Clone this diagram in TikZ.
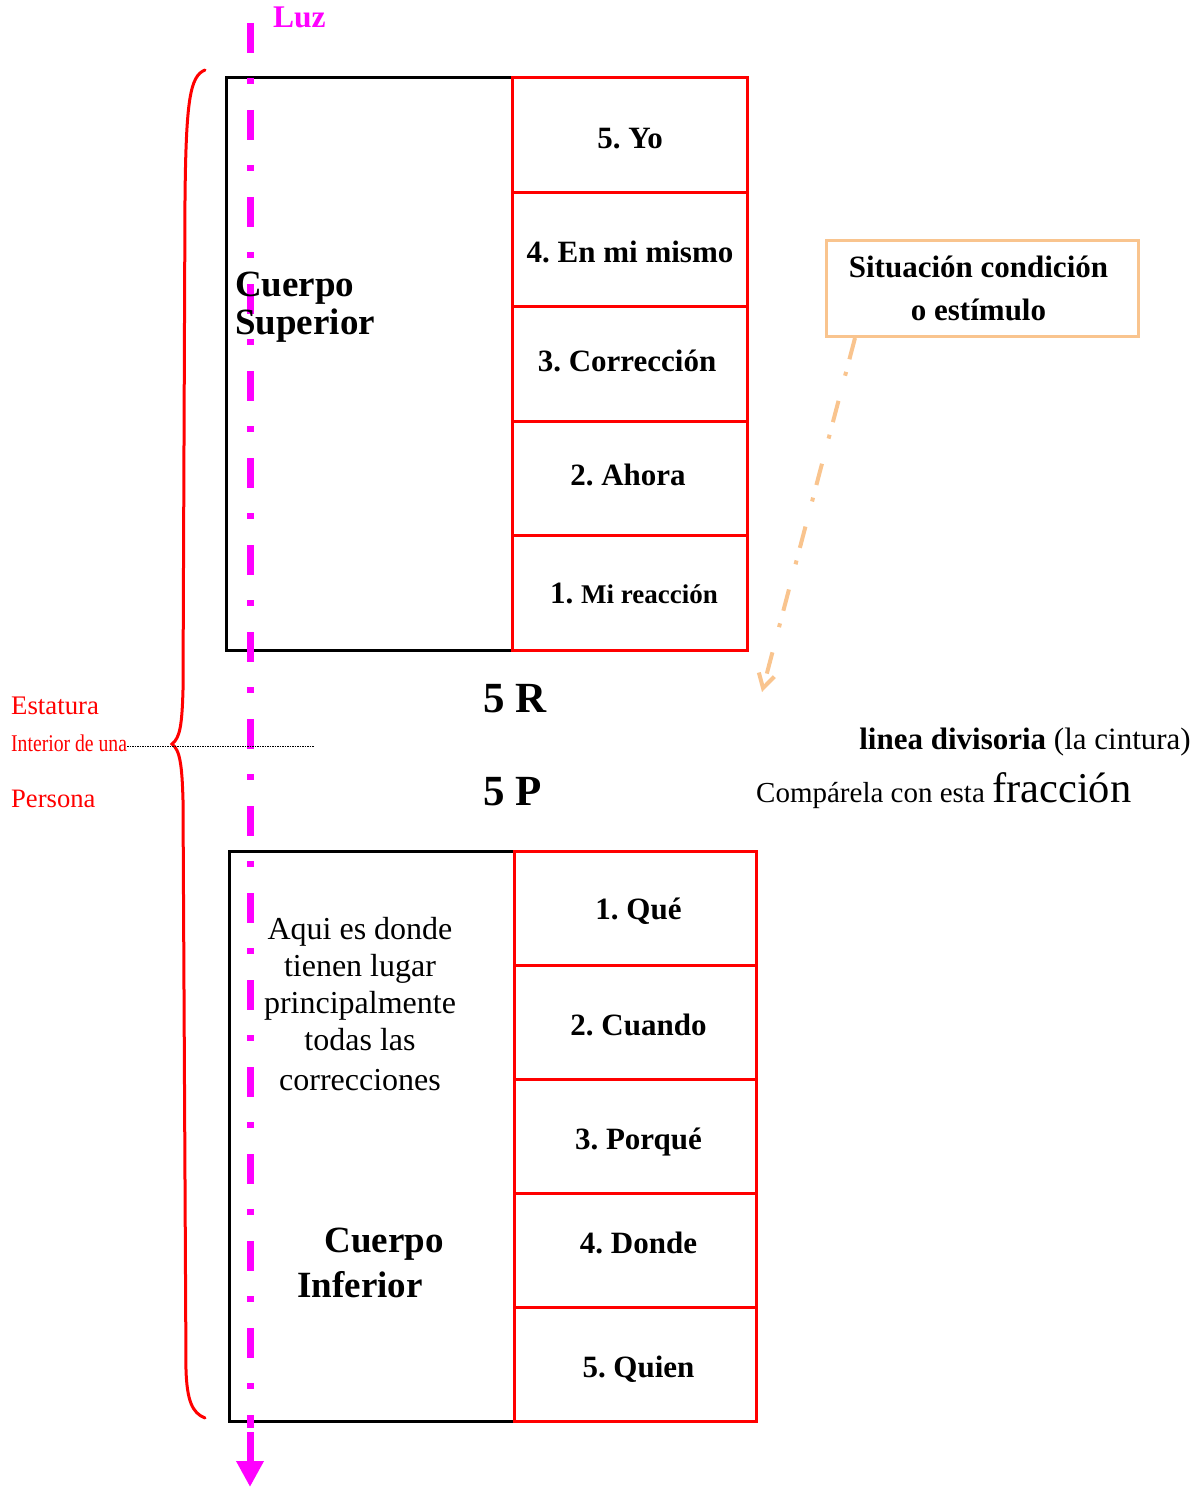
\documentclass[tikz,border=0pt]{standalone}
\usepackage{fontspec}
\setmainfont{Liberation Serif}
\usetikzlibrary{arrows.meta}
\definecolor{mag}{HTML}{FF00FF}
\definecolor{peach}{HTML}{F9C48E}
\definecolor{rd}{HTML}{FF0000}
\frenchspacing
\newcommand{\shiftlbl}[3]{\hspace*{#1}\raisebox{#2}[\height][\depth]{#3}}
\begin{document}
\begin{tikzpicture}[x=1pt,y=-1pt,
  blackbox/.style={draw=black,line width=3.2pt,anchor=north west,inner sep=0pt},
  upcell/.style={draw=rd,line width=3pt,anchor=north west,minimum width=235pt,minimum height=114.6pt,inner sep=0pt,font=\bfseries\fontsize{31}{33}\selectfont},
  lowcell/.style={draw=rd,line width=3pt,anchor=north west,minimum width=242pt,minimum height=114pt,inner sep=0pt,font=\bfseries\fontsize{31}{33}\selectfont},
  redlbl/.style={text=rd,anchor=base west,inner sep=0pt},
  lightaxis/.style={draw=mag,line width=7pt,dash pattern=on 30pt off 25pt on 6pt off 26pt},
]
\useasboundingbox (0,0) rectangle (1198,1490);
% brace
\draw[rd,line width=3pt,line cap=round] (205,70) .. controls (190,76) and (186,100) .. (185,200)
  -- (183,690) .. controls (182,725) and (180,738) .. (172,744)
  .. controls (180,750) and (182,765) .. (183,800)
  -- (186,1370) .. controls (187,1400) and (192,1413) .. (205,1418);
% boxes
\node[blackbox,minimum width=286pt,minimum height=573pt] (ub) at (225,76) {};
\node[blackbox,minimum width=285pt,minimum height=570pt] (lb) at (228,850) {};
\node[upcell] (u5) at (511,76) {\shiftlbl{0pt}{-4pt}{5. Yo}};
\node[upcell] (u4) at (511,190.6) {\shiftlbl{0pt}{-3pt}{4. En mi mismo}};
\node[upcell] (u3) at (511,305.2) {\shiftlbl{-6pt}{3pt}{3. Corrección}};
\node[upcell] (u2) at (511,419.8) {\shiftlbl{-4pt}{4pt}{2. Ahora}};
\node[upcell] (u1) at (511,534.4) {\hspace{8pt}1. {\fontsize{27}{29}\selectfont Mi reacción}};
\node[lowcell] (l1) at (513,850) {\shiftlbl{6pt}{-3pt}{1. Qué}};
\node[lowcell] (l2) at (513,964) {\shiftlbl{6pt}{-2pt}{2. Cuando}};
\node[lowcell] (l3) at (513,1078) {\shiftlbl{6pt}{-6pt}{3. Porqué}};
\node[lowcell] (l4) at (513,1192) {\shiftlbl{6pt}{8pt}{4. Donde}};
\node[lowcell] (l5) at (513,1306) {\shiftlbl{6pt}{-5pt}{5. Quien}};
% light axis
\coordinate (lz0) at (250,23);
\coordinate (lz1) at (250,1428);
\coordinate (lz2) at (250,1432);
\coordinate (lz3) at (250,1487);
\draw[lightaxis] (lz0) -- (lz1);
\draw[mag,line width=7pt,-{Triangle[length=26pt,width=26pt]}] (lz2) -- (lz3);
\node[text=mag,font=\bfseries\fontsize{31.5}{33}\selectfont,anchor=base west,inner sep=0pt] (luz) at (273,28) {Luz};
% texts
\node[anchor=north west,inner sep=0pt,align=left,font=\bfseries\fontsize{37}{38}\selectfont] (cs) at (235,272) {Cuerpo\\Superior};
\node[font=\bfseries\fontsize{43}{43}\selectfont,anchor=base,inner sep=0pt] (r5) at (515,712) {5 R};
\node[font=\bfseries\fontsize{43}{43}\selectfont,anchor=base,inner sep=0pt] (p5) at (513,805) {5 P};
\node[redlbl,font=\fontsize{26.8}{27}\selectfont] (est) at (11,714) {Estatura};
\node[redlbl,font=\fontsize{24}{24}\selectfont,xscale=0.82] (int) at (11,751) {Interior de una};
\node[redlbl,font=\fontsize{26.6}{27}\selectfont] (per) at (11,807) {Persona};
\coordinate (dv) at (314,746);
\draw[black,line width=0.8pt,dash pattern=on 1.5pt off 1pt] (int.base east) ++(0,-5) -- (dv);
\node[anchor=base east,inner sep=0pt,font=\fontsize{31}{33}\selectfont] (ld) at (1191,749) {\textbf{linea divisoria} (la cintura)};
\node[anchor=base west,inner sep=0pt,font=\fontsize{29}{33}\selectfont] (cf) at (756,802) {Compárela con esta {\fontsize{42.5}{43}\selectfont fracción}};
\node[draw=peach,line width=3pt,anchor=north west,minimum width=312pt,minimum height=96pt,inner sep=0pt,align=center,font=\bfseries\fontsize{31}{43}\selectfont] (sit) at (825,239) {\hspace*{-8pt}Situación condición\\\hspace*{-8pt}o estímulo};
\coordinate (sa) at (855,338);
\coordinate (sb) at (762,692);
\draw[peach,line width=4pt,dash pattern=on 22pt off 13pt on 4pt off 26pt,-{Straight Barb[length=14pt,width=16pt]}] (sa) -- (sb);
\node[align=center,font=\fontsize{32}{37}\selectfont,anchor=north,inner sep=0pt] (aq) at (360,917) {Aqui es donde\\tienen lugar\\principalmente\\todas las\\[3pt]correcciones};
\node[font=\bfseries\fontsize{37}{44}\selectfont,anchor=base,inner sep=0pt] (ci1) at (384,1252) {Cuerpo};
\node[font=\bfseries\fontsize{37}{44}\selectfont,anchor=base,inner sep=0pt] (ci2) at (360,1297) {Inferior};
\end{tikzpicture}
\end{document}
